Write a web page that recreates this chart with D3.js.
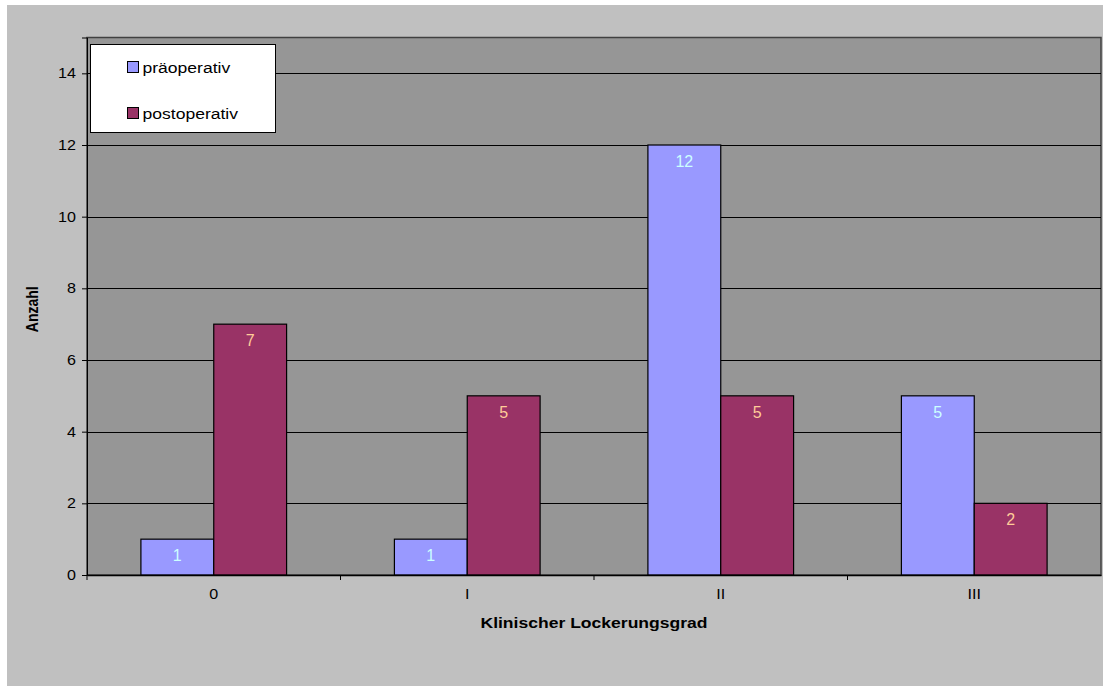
<!DOCTYPE html>
<html>
<head>
<meta charset="utf-8">
<script src="https://cdn.jsdelivr.net/npm/d3@7"></script>
<style>
  html, body { margin: 0; padding: 0; background: #ffffff; }
  svg { display: block; font-family: Arial, "Liberation Sans", sans-serif; }
</style>
</head>
<body>
<svg id="chart" width="1103" height="686"></svg>
<script>
const categories = ['0', 'I', 'II', 'III'];
const seriesNames = ['präoperativ', 'postoperativ'];
const praeoperativ = [1, 1, 12, 5];
const postoperativ = [7, 5, 5, 2];
const yTicks = [0, 2, 4, 6, 8, 10, 12, 14];

const COLORS = { 'präoperativ': '#9999ff', 'postoperativ': '#993366' };
const LABEL_COLORS = { 'präoperativ': '#ccffff', 'postoperativ': '#ffcc99' };

const W = 1103, H = 686;
const plot = { left: 87, top: 37.5, right: 1101, bottom: 575 };
// the original picture is stretched horizontally, so is its text
const STRETCH = 1.15;

const svg = d3.select('#chart');

// chart area background
svg.append('rect')
  .attr('x', 7).attr('y', 5)
  .attr('width', W - 7).attr('height', H - 5)
  .attr('fill', '#c0c0c0');

const x = d3.scaleBand()
  .domain(categories)
  .range([plot.left, plot.right]);

const x1 = d3.scaleBand()
  .domain(seriesNames)
  .range([0, x.bandwidth()])
  .paddingInner(0)
  .paddingOuter(0.74);

const y = d3.scaleLinear()
  .domain([0, 15])
  .range([plot.bottom, plot.top]);

// plot area
svg.append('rect')
  .attr('x', plot.left).attr('y', plot.top)
  .attr('width', plot.right - plot.left).attr('height', plot.bottom - plot.top)
  .attr('fill', '#969696')
  .attr('stroke', '#404040')
  .attr('stroke-width', 1.5);

// gridlines
svg.append('g')
  .selectAll('line')
  .data(yTicks.filter(d => d > 0))
  .join('line')
  .attr('x1', plot.left).attr('x2', plot.right)
  .attr('y1', d => Math.round(y(d)) + 0.5).attr('y2', d => Math.round(y(d)) + 0.5)
  .attr('stroke', '#000')
  .attr('stroke-width', 1);

// y axis
const yAxis = svg.append('g')
  .attr('transform', `translate(${plot.left},0)`)
  .call(d3.axisLeft(y).tickValues(yTicks).tickSize(5).tickPadding(6).tickFormat(d3.format('d')));
yAxis.select('.domain').attr('stroke', '#000');
yAxis.selectAll('.tick line').attr('stroke', '#000');
yAxis.selectAll('text')
  .attr('x', 0)
  .attr('transform', `translate(-11,0) scale(${STRETCH},1)`)
  .attr('font-size', 14).attr('fill', '#000')
  .attr('font-family', 'Arial, "Liberation Sans", sans-serif');

// bars
const data = categories.map((c, i) => ({
  cat: c,
  values: [
    { series: 'präoperativ', value: praeoperativ[i] },
    { series: 'postoperativ', value: postoperativ[i] }
  ]
}));

const groups = svg.append('g')
  .selectAll('g')
  .data(data)
  .join('g')
  .attr('transform', d => `translate(${x(d.cat)},0)`);

groups.selectAll('rect')
  .data(d => d.values)
  .join('rect')
  .attr('x', d => x1(d.series))
  .attr('y', d => y(d.value))
  .attr('width', x1.bandwidth())
  .attr('height', d => y(0) - y(d.value))
  .attr('fill', d => COLORS[d.series])
  .attr('stroke', '#000')
  .attr('stroke-width', 1.2);

groups.selectAll('text')
  .data(d => d.values)
  .join('text')
  .attr('x', d => x1(d.series) + x1.bandwidth() / 2)
  .attr('y', d => y(d.value) + 22)
  .attr('text-anchor', 'middle')
  .attr('font-size', 16)
  .attr('fill', d => LABEL_COLORS[d.series])
  .text(d => d.value);

// x axis
const xAxis = svg.append('g')
  .attr('transform', `translate(0,${plot.bottom})`)
  .call(d3.axisBottom(x).tickSize(0).tickPadding(14));
xAxis.select('.domain').attr('stroke', '#000').attr('stroke-width', 1.5);
xAxis.selectAll('.tick text')
  .attr('transform', `scale(${STRETCH},1)`)
  .attr('font-size', 14).attr('fill', '#000')
  .attr('font-family', 'Arial, "Liberation Sans", sans-serif');

// category separator ticks
svg.append('g')
  .selectAll('line')
  .data(categories)
  .join('line')
  .attr('x1', d => x(d)).attr('x2', d => x(d))
  .attr('y1', plot.bottom).attr('y2', plot.bottom + 5)
  .attr('stroke', '#000');

// axis titles
svg.append('text')
  .attr('transform', `translate(${(plot.left + plot.right) / 2},628) scale(1.17,1)`)
  .attr('text-anchor', 'middle')
  .attr('font-size', 15).attr('font-weight', 'bold')
  .text('Klinischer Lockerungsgrad');

svg.append('text')
  .attr('transform', `translate(38,${(plot.top + plot.bottom) / 2 + 3}) scale(1.2,1) rotate(-90)`)
  .attr('text-anchor', 'middle')
  .attr('font-size', 14).attr('font-weight', 'bold')
  .text('Anzahl');

// legend
const legend = svg.append('g').attr('transform', 'translate(90.5,44.5)');
legend.append('rect')
  .attr('width', 185).attr('height', 88)
  .attr('fill', '#fff')
  .attr('stroke', '#000')
  .attr('stroke-width', 1);

const items = legend.selectAll('g.item')
  .data(seriesNames)
  .join('g')
  .attr('class', 'item')
  .attr('transform', (d, i) => `translate(37,${17 + i * 46})`);

items.append('rect')
  .attr('width', 11).attr('height', 11)
  .attr('fill', d => COLORS[d])
  .attr('stroke', '#000');

items.append('text')
  .attr('transform', 'translate(15,11) scale(1.17,1)')
  .attr('font-size', 15)
  .text(d => d);
</script>
</body>
</html>
